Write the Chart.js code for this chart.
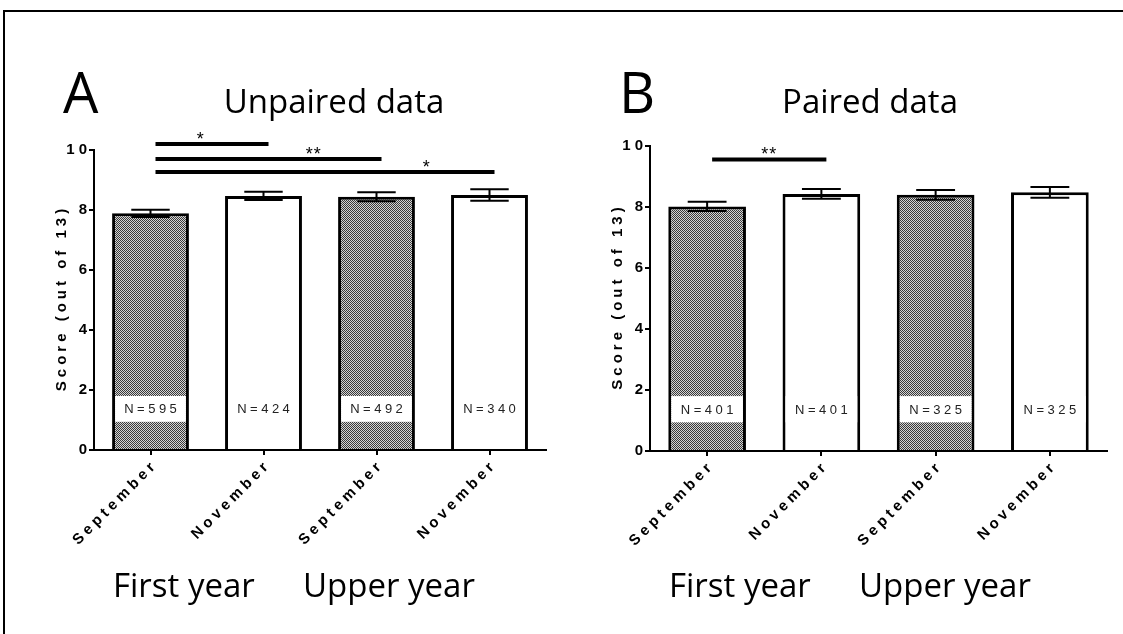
<!DOCTYPE html>
<html><head><meta charset="utf-8">
<script src="https://cdn.jsdelivr.net/npm/chart.js@4/dist/chart.umd.min.js"></script>
<style>
html,body{margin:0;padding:0;background:#fff;width:1123px;height:634px;overflow:hidden;position:relative}
canvas{position:absolute;top:0}
#cA{left:0}
#cB{left:560px}
</style></head><body>
<canvas id="cA" width="560" height="634"></canvas>
<canvas id="cB" width="563" height="634"></canvas>
<script>
// ---- data ----
const categories = ['September', 'November', 'September', 'November'];
const groupLabels = ['First year', 'Upper year'];
const yTicks = [0, 2, 4, 6, 8, 10];

const unpairedMeans = [7.89, 8.47, 8.44, 8.50];
const unpairedErr   = [0.12, 0.14, 0.15, 0.19];
const unpairedN     = [595, 424, 492, 340];
const unpairedSigFrom  = [0, 0, 0];
const unpairedSigTo    = [1, 2, 3];
const unpairedSigLevel = [10.2, 9.7, 9.27];
const unpairedSigText  = ['*', '**', '*'];
const unpairedStarPos  = [0.4, 1.4, 2.4];

const pairedMeans = [8.02, 8.43, 8.40, 8.48];
const pairedErr   = [0.15, 0.16, 0.16, 0.175];
const pairedN     = [401, 401, 325, 325];
const pairedSigFrom  = [0];
const pairedSigTo    = [1];
const pairedSigLevel = [9.56];
const pairedSigText  = ['**'];
const pairedStarPos  = [0.5];

// ---- helpers ----
function makePattern(ctx) {
  const c = document.createElement('canvas');
  c.width = 2; c.height = 2;
  const g = c.getContext('2d');
  g.fillStyle = '#d4d4d4'; g.fillRect(0, 0, 2, 2);
  g.fillStyle = '#3a3a3a'; g.fillRect(0, 0, 1, 1); g.fillRect(1, 1, 1, 1);
  return ctx.createPattern(c, 'repeat');
}

function build(canvasId, cfg) {
  const canvas = document.getElementById(canvasId);
  const ctx0 = canvas.getContext('2d');
  const pat = makePattern(ctx0);
  const A = cfg.area;

  const overlay = {
    id: 'overlay',
    beforeDraw(chart) { chart.ctx.letterSpacing = '4px'; },
    afterDatasetsDraw(chart) {
      const ctx = chart.ctx;
      const ys = chart.scales.y;
      const meta = chart.getDatasetMeta(0);
      ctx.save();
      meta.data.forEach((bar, i) => {
        const bw = 3;
        const l = bar.x - bar.width / 2 + bw, r = bar.x + bar.width / 2 - bw;
        const yTop = ys.getPixelForValue(1.8), yBot = ys.getPixelForValue(0.94);
        ctx.fillStyle = '#fff';
        ctx.fillRect(l, yTop, r - l, yBot - yTop);
        ctx.font = '13px "Liberation Sans", Arial, sans-serif';
        ctx.letterSpacing = '3.5px';
        ctx.fillStyle = '#222';
        ctx.textAlign = 'center';
        ctx.textBaseline = 'middle';
        ctx.fillText('N=' + cfg.ns[i], bar.x + 1.75, (yTop + yBot) / 2 + 1);
        // error bar
        const m = cfg.means[i], e = cfg.errs[i];
        const y1 = ys.getPixelForValue(m + e), y2 = ys.getPixelForValue(m - e);
        const hw = bar.width / 4;
        ctx.strokeStyle = '#000';
        ctx.lineWidth = 2;
        ctx.beginPath();
        ctx.moveTo(bar.x, y1); ctx.lineTo(bar.x, y2);
        ctx.moveTo(bar.x - hw, y1); ctx.lineTo(bar.x + hw, y1);
        ctx.moveTo(bar.x - hw, y2); ctx.lineTo(bar.x + hw, y2);
        ctx.stroke();
      });
      ctx.restore();
    },
    afterDraw(chart) {
      const ctx = chart.ctx;
      const xs = chart.scales.x, ys = chart.scales.y;
      const ca = chart.chartArea;
      ctx.save();
      ctx.letterSpacing = '0px';
      // figure frame (top and left edges)
      ctx.fillStyle = '#000';
      ctx.fillRect(cfg.frameLeft, 10, chart.width - cfg.frameLeft, 2);
      if (cfg.frameLeft > 0) ctx.fillRect(cfg.frameLeft, 10, 2, chart.height - 10);
      // significance lines
      ctx.strokeStyle = '#000';
      ctx.lineWidth = 4;
      cfg.sigFrom.forEach((f, i) => {
        const x1 = xs.getPixelForValue(f) + 5, x2 = xs.getPixelForValue(cfg.sigTo[i]) + 5;
        const y = ys.getPixelForValue(cfg.sigLevel[i]);
        ctx.beginPath(); ctx.moveTo(x1, y); ctx.lineTo(x2, y); ctx.stroke();
        ctx.font = '18px "Liberation Sans", Arial, sans-serif';
        ctx.letterSpacing = '1px';
        ctx.fillStyle = '#000';
        ctx.textAlign = 'center';
        ctx.textBaseline = 'alphabetic';
        ctx.fillText(cfg.sigText[i], xs.getPixelForValue(cfg.starPos[i]) + 5, y + 1);
        ctx.letterSpacing = '0px';
      });
      // panel letter and title
      ctx.fillStyle = '#000';
      ctx.textBaseline = 'alphabetic';
      ctx.textAlign = 'left';
      ctx.font = '56px "Open Sans", sans-serif';
      ctx.fillText(cfg.letter, ca.left - 31, 113);
      ctx.textAlign = 'center';
      ctx.font = '33px "Open Sans", sans-serif';
      ctx.fillText(cfg.title, ca.left + cfg.titleOffset, 113);
      // group labels
      ctx.textAlign = 'left';
      ctx.fillText(groupLabels[0], ca.left + 19, 597);
      ctx.fillText(groupLabels[1], ca.left + 209, 597);
      // y axis title
      ctx.save();
      ctx.translate(ca.left - 32, (ca.top + ca.bottom) / 2);
      ctx.rotate(-Math.PI / 2);
      ctx.font = 'bold 15px "Liberation Sans", Arial, sans-serif';
      ctx.letterSpacing = '4px';
      ctx.textAlign = 'center';
      ctx.textBaseline = 'middle';
      ctx.fillText('Score (out of 13)', 2, 0);
      ctx.restore();
      ctx.restore();
    }
  };

  return new Chart(canvas, {
    type: 'bar',
    data: {
      labels: categories,
      datasets: [{
        data: cfg.means,
        backgroundColor: [pat, '#ffffff', pat, '#ffffff'],
        borderColor: '#000',
        borderWidth: 3,
        borderSkipped: 'start',
        barPercentage: 0.68,
        categoryPercentage: 1
      }]
    },
    options: {
      responsive: false,
      animation: false,
      events: [],
      layout: { padding: { left: 0, top: A.top, right: A.rightPad, bottom: 0 } },
      plugins: { legend: { display: false }, tooltip: { enabled: false }, title: { display: false } },
      scales: {
        x: {
          offset: true,
          grid: { display: true, drawOnChartArea: false, drawTicks: true, tickLength: 5, color: '#000', lineWidth: 2, offset: false },
          border: { display: true, color: '#000', width: 2 },
          ticks: {
            autoSkip: false, maxRotation: 45, minRotation: 45, color: '#000', padding: 1, labelOffset: 5,
            font: { family: '"Liberation Sans", Arial, sans-serif', weight: 'bold', size: 15 }
          },
          afterFit: s => { s.height = 634 - A.bottom; }
        },
        y: {
          min: 0, max: 10,
          afterBuildTicks: s => { s.ticks = yTicks.map(v => ({ value: v })); },
          grid: { display: true, drawOnChartArea: false, drawTicks: true, tickLength: 5, color: '#000', lineWidth: 2 },
          border: { display: true, color: '#000', width: 2 },
          ticks: {
            color: '#000', padding: -2,
            font: { family: '"Liberation Sans", Arial, sans-serif', weight: 'bold', size: 15 }
          },
          afterFit: s => { s.width = A.left; }
        }
      }
    },
    plugins: [overlay]
  });
}

build('cA', {
  area: { left: 94, top: 150, bottom: 450, rightPad: 14 }, frameLeft: 3,
  means: unpairedMeans, errs: unpairedErr, ns: unpairedN,
  sigFrom: unpairedSigFrom, sigTo: unpairedSigTo, sigLevel: unpairedSigLevel,
  sigText: unpairedSigText, starPos: unpairedStarPos,
  letter: 'A', title: 'Unpaired data', titleOffset: 240
});
build('cB', {
  area: { left: 90, top: 146, bottom: 451, rightPad: 16 }, frameLeft: 0,
  means: pairedMeans, errs: pairedErr, ns: pairedN,
  sigFrom: pairedSigFrom, sigTo: pairedSigTo, sigLevel: pairedSigLevel,
  sigText: pairedSigText, starPos: pairedStarPos,
  letter: 'B', title: 'Paired data', titleOffset: 220
});
</script>
</body></html>
